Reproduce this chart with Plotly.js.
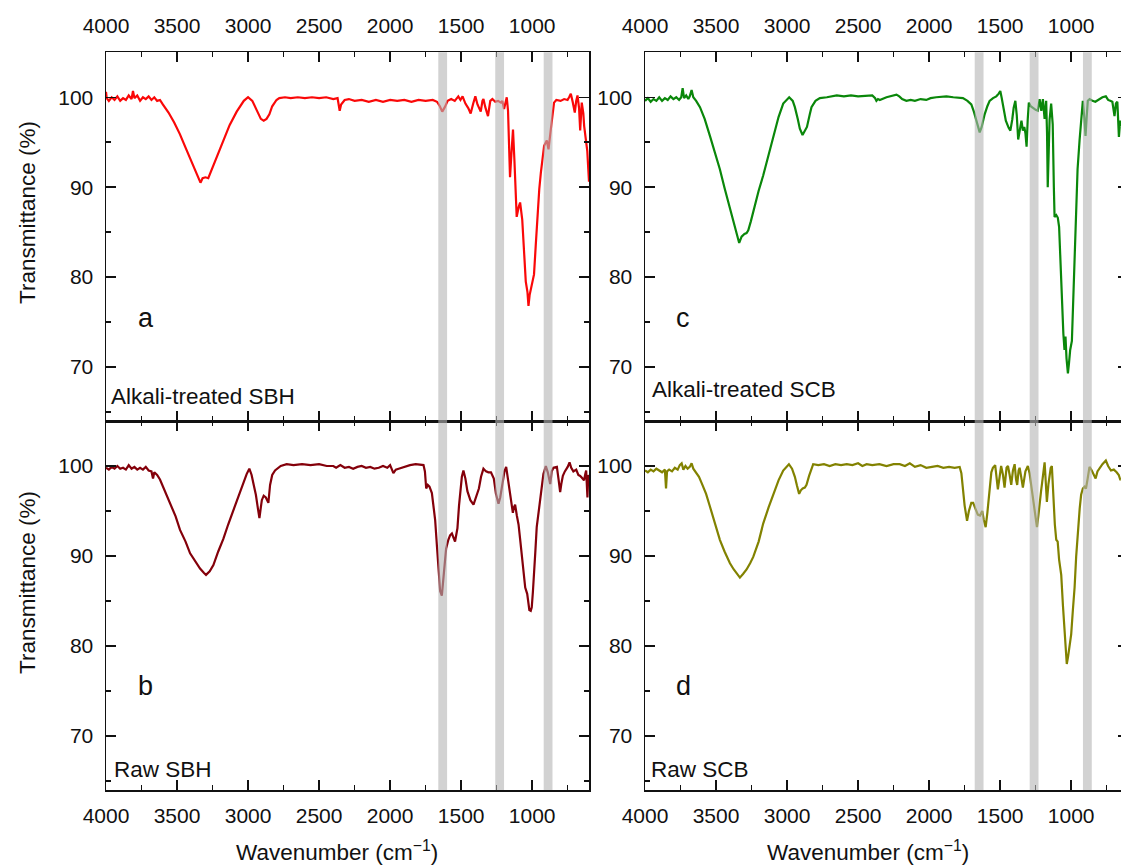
<!DOCTYPE html>
<html>
<head>
<meta charset="utf-8">
<script src="https://cdn.plot.ly/plotly-3.0.1.min.js"></script>
<style>
html,body{margin:0;padding:0;overflow:hidden;background:#fff;}
#chart{width:1130px;height:866px;}
</style>
</head>
<body>
<div id="chart"></div>
<script>
// ---- Panel a: Alkali-treated SBH ----
var aWn = [4000,3995,3980,3960,3940,3920,3900,3880,3860,3840,3820,3810,3800,3780,3760,3740,3720,3700,3680,3660,3640,3620,3600,3560,3520,3480,3440,3400,3370,3345,3335,3320,3300,3280,3265,3230,3180,3130,3080,3030,3000,2970,2940,2910,2890,2870,2850,2830,2800,2780,2740,2700,2650,2600,2550,2500,2450,2400,2370,2355,2345,2320,2290,2250,2200,2150,2100,2050,2000,1950,1900,1850,1800,1750,1700,1670,1650,1633,1615,1595,1570,1545,1520,1505,1490,1470,1450,1433,1415,1400,1385,1362,1350,1343,1330,1311,1295,1280,1260,1240,1220,1210,1198,1185,1179,1170,1156,1145,1135,1125,1109,1095,1085,1070,1058,1045,1033,1026,1018,1010,1000,987,975,963,950,939,925,916,897,885,869,855,846,830,800,775,751,740,728,715,700,690,681,670,662,651,640,634,622,612,605,600];
var aT  = [100.6,99.9,99.6,100.0,99.7,100.1,99.6,99.9,99.7,100.2,99.8,100.7,99.9,100.2,99.6,100.0,99.8,100.1,99.7,100.0,99.6,99.7,99.2,98.3,97.2,95.9,94.4,92.9,91.8,90.9,90.5,91.0,91.1,91.0,91.6,93.0,95.0,96.9,98.4,99.6,100.0,99.6,98.6,97.6,97.4,97.6,98.1,99.0,99.7,99.9,100.0,99.9,100.0,99.9,100.0,99.9,100.0,99.8,99.9,98.5,99.2,99.7,99.8,99.6,99.7,99.5,99.7,99.5,99.7,99.6,99.7,99.5,99.7,99.6,99.7,99.5,99.0,98.4,98.9,99.6,99.8,99.6,100.1,99.7,100.1,99.3,98.8,98.2,99.3,100.1,99.2,98.4,99.6,99.8,98.9,97.9,99.6,99.8,99.5,99.6,99.4,99.6,98.7,99.8,100.0,98.5,91.1,94.0,96.4,93.0,86.7,87.8,88.3,86.4,83.0,79.5,78.3,76.8,78.0,78.6,79.3,80.3,83.5,87.2,89.8,91.6,93.6,94.6,95.2,94.2,96.4,98.4,99.4,99.7,99.6,99.8,99.7,100.0,100.4,99.5,98.3,99.6,100.2,98.8,96.3,99.4,98.2,96.8,95.4,94.0,92.0,90.6];

// ---- Panel b: Raw SBH ----
var bWn = [4000,3980,3960,3940,3920,3900,3880,3860,3840,3820,3800,3780,3760,3740,3720,3700,3680,3669,3660,3640,3620,3590,3549,3510,3479,3440,3408,3370,3338,3310,3296,3270,3244,3210,3174,3140,3104,3070,3033,3010,2991,2975,2960,2945,2930,2920,2910,2903,2890,2875,2857,2850,2845,2830,2810,2770,2728,2680,2620,2560,2500,2446,2400,2380,2350,2320,2290,2260,2230,2200,2170,2140,2110,2080,2050,2020,2000,1977,1960,1940,1900,1860,1820,1790,1765,1755,1746,1735,1723,1706,1695,1683,1670,1660,1648,1636,1625,1615,1606,1590,1578,1565,1555,1543,1535,1526,1515,1507,1495,1484,1470,1456,1435,1413,1400,1389,1375,1360,1343,1325,1308,1290,1270,1255,1237,1225,1213,1195,1183,1170,1155,1145,1136,1128,1120,1108,1096,1085,1073,1060,1049,1035,1020,1010,1003,995,986,978,968,955,944,932,921,904,890,873,862,850,826,815,803,795,784,770,750,737,725,710,690,675,662,650,635,625,620,611,605,600];
var bT  = [99.8,99.6,99.9,99.7,100.0,99.7,99.8,99.6,100.1,99.7,99.9,99.6,99.8,99.6,99.9,99.5,99.4,98.6,99.3,99.0,98.5,97.4,95.8,94.4,92.9,91.6,90.3,89.3,88.6,88.1,87.9,88.3,89.0,90.5,91.9,93.5,95.1,96.6,98.2,99.1,99.7,99.0,97.9,96.8,95.2,94.2,95.4,96.2,96.7,96.5,95.9,96.8,97.9,99.0,99.5,100.0,100.2,100.1,100.2,100.1,100.2,100.0,100.0,99.8,100.1,99.8,99.9,99.7,99.9,100.0,99.8,99.9,99.7,99.8,100.0,99.8,100.1,99.2,99.6,99.7,99.9,100.1,100.2,100.1,100.1,99.4,97.5,97.9,97.7,97.0,95.6,94.0,91.0,88.5,86.1,85.6,87.4,89.3,90.8,91.8,92.3,92.5,92.0,91.6,92.3,93.1,95.6,97.2,98.8,99.5,98.6,97.2,96.2,95.7,96.3,96.8,97.5,98.8,99.7,99.4,99.3,99.3,98.6,96.9,95.8,96.5,97.5,99.4,99.9,98.6,96.8,95.6,94.8,95.4,95.7,94.5,93.5,91.9,90.2,88.2,86.5,85.8,84.0,83.9,84.3,86.0,88.0,90.4,93.2,94.9,96.2,97.8,99.1,100.0,99.3,98.0,99.4,99.8,99.9,98.6,97.1,98.0,98.9,99.4,99.9,100.4,99.8,99.4,99.6,99.0,98.9,98.7,98.4,99.2,99.5,96.5,99.0,98.8];

// ---- Panel c: Alkali-treated SCB ----
var cWn = [4000,3980,3960,3940,3920,3900,3880,3860,3840,3820,3800,3780,3760,3745,3735,3725,3710,3695,3685,3672,3660,3640,3613,3580,3543,3510,3473,3440,3402,3375,3355,3337,3320,3300,3285,3273,3255,3238,3200,3168,3130,3097,3060,3027,2985,2960,2945,2925,2910,2891,2875,2860,2840,2828,2800,2769,2720,2650,2600,2550,2500,2440,2400,2380,2371,2360,2347,2300,2260,2230,2210,2190,2160,2130,2100,2060,2020,1990,1950,1900,1878,1830,1790,1762,1730,1703,1685,1668,1655,1644,1630,1620,1609,1590,1574,1550,1527,1510,1499,1490,1475,1460,1440,1428,1415,1405,1393,1383,1373,1362,1350,1340,1330,1322,1314,1306,1298,1285,1270,1250,1235,1222,1210,1199,1187,1176,1170,1165,1158,1152,1141,1130,1122,1117,1105,1094,1085,1075,1063,1055,1047,1040,1033,1023,1015,1007,995,985,975,966,955,941,930,918,908,899,890,883,870,850,830,800,780,756,740,725,710,695,685,675,664,655,650];
var cT  = [99.6,99.9,99.5,99.8,99.6,100.0,99.6,99.9,99.7,100.1,99.8,100.0,99.7,100.0,101.0,99.9,100.2,99.8,100.1,100.8,100.0,99.6,98.9,97.6,95.7,94.0,92.0,89.9,87.6,86.0,85.0,83.8,84.5,84.8,84.9,85.2,86.2,87.3,89.6,91.3,93.6,95.8,97.8,99.3,100.0,99.6,98.9,97.6,96.5,95.8,96.3,96.7,98.1,98.9,99.6,99.9,100.0,100.2,100.1,100.2,100.1,100.2,100.2,99.9,99.6,99.8,99.7,100.0,100.2,100.3,100.1,99.8,99.6,99.7,99.6,99.8,99.7,99.9,100.0,100.1,100.1,100.0,99.9,99.9,99.6,99.2,98.4,97.4,96.6,96.1,96.7,97.4,98.1,99.0,99.6,99.9,100.1,100.4,100.7,100.0,98.8,97.4,96.6,96.3,97.5,98.8,99.6,98.0,95.3,96.5,97.4,96.3,96.7,96.0,94.5,97.5,99.4,99.0,98.8,98.6,98.5,99.8,98.5,99.8,97.6,99.6,96.0,90.0,94.0,97.5,99.3,97.0,90.0,86.7,86.9,86.6,85.6,81.0,76.0,73.7,71.9,73.4,71.0,69.3,70.5,71.9,72.9,78.0,84.0,87.8,92.0,95.2,97.8,99.6,97.8,95.7,98.0,99.6,99.8,99.6,99.5,99.8,100.0,100.1,99.7,99.6,99.5,97.9,99.3,99.5,95.6,97.4,96.8];

// ---- Panel d: Raw SCB ----
var dWn = [4000,3980,3960,3940,3920,3900,3880,3860,3852,3845,3830,3810,3790,3770,3755,3742,3730,3715,3700,3685,3672,3660,3640,3620,3601,3570,3543,3510,3473,3440,3402,3375,3355,3332,3310,3285,3260,3238,3200,3168,3130,3097,3060,3027,2987,2965,2945,2930,2915,2903,2890,2875,2863,2845,2830,2816,2780,2740,2700,2660,2620,2580,2540,2500,2470,2440,2400,2350,2300,2250,2207,2170,2136,2100,2060,2020,1980,1940,1900,1860,1820,1785,1773,1760,1750,1733,1720,1703,1690,1675,1657,1642,1626,1615,1602,1590,1575,1562,1551,1535,1516,1500,1493,1480,1469,1455,1445,1433,1422,1410,1398,1388,1380,1370,1363,1352,1340,1322,1305,1293,1281,1268,1257,1248,1241,1230,1222,1212,1204,1195,1187,1180,1171,1160,1153,1144,1136,1130,1124,1115,1105,1095,1085,1070,1058,1047,1039,1031,1022,1012,1000,988,976,965,953,940,930,918,906,896,885,871,855,840,828,815,800,780,756,740,720,700,680,665,655,650];
var dT  = [99.5,99.3,99.6,99.4,99.7,99.5,99.3,99.6,97.5,99.4,99.6,99.4,99.8,99.6,100.1,100.3,99.6,100.0,99.7,99.9,100.3,99.7,99.3,98.8,98.1,96.9,95.5,93.8,91.8,90.5,89.2,88.5,88.1,87.6,88.0,88.5,89.2,89.9,91.6,93.6,95.4,96.9,98.4,99.5,100.2,99.7,98.8,97.8,96.9,97.3,97.5,97.6,97.9,98.9,99.6,100.2,100.1,100.2,100.0,100.2,100.1,100.2,100.1,100.3,100.0,100.2,100.1,100.2,100.0,100.2,100.2,100.0,100.3,99.9,100.1,99.8,99.9,100.0,99.8,99.9,99.8,99.9,99.2,97.0,95.6,93.9,95.0,95.9,95.9,95.3,94.6,94.5,95.0,94.0,93.2,94.8,97.5,99.3,99.8,100.1,97.4,99.6,100.0,99.0,97.6,99.8,100.0,99.0,97.9,99.5,100.2,98.5,97.9,99.5,99.8,98.8,97.6,99.4,100.0,99.2,97.8,96.0,94.5,93.7,93.2,94.6,96.0,97.2,98.2,99.6,100.4,98.5,96.0,98.0,98.9,99.8,100.0,97.8,95.6,93.5,91.8,91.6,89.6,87.9,84.5,81.3,79.5,78.0,78.8,79.8,81.3,84.0,86.5,89.9,93.1,95.3,96.8,97.5,97.7,97.5,98.5,99.9,99.5,99.0,98.6,99.4,99.8,100.2,100.6,100.0,99.5,99.6,99.3,99.0,98.5,98.5];

// Highlighted bands (wavenumber centres)
var bandsSBH = [1630, 1229, 888];
var bandsSCB = [1648, 1261, 886];
var bandWidth = 62;

var yTickVals = [70, 80, 90, 100];
var xTickVals = [4000, 3500, 3000, 2500, 2000, 1500, 1000];
var xTitle = 'Wavenumber (cm<sup>\u22121</sup>)';
var yTitle = 'Transmittance (%)';
var panelLetters = ['a', 'b', 'c', 'd'];
var panelNames = ['Alkali-treated SBH', 'Raw SBH', 'Alkali-treated SCB', 'Raw SCB'];

var W = 1130, H = 866;
function px(x){ return x / W; }
function py(y){ return 1 - y / H; }

var FONT = 'Liberation Sans, Arial, sans-serif';
var tickFont = {family: FONT, size: 21, color: '#111'};

var traces = [
  {x: aWn, y: aT, xaxis: 'x',  yaxis: 'y',  line: {color: 'rgb(250,8,8)', width: 2.2}},
  {x: bWn, y: bT, xaxis: 'x2', yaxis: 'y2', line: {color: 'rgb(132,0,10)', width: 2.2}},
  {x: cWn, y: cT, xaxis: 'x3', yaxis: 'y3', line: {color: 'rgb(10,135,10)', width: 2.2}},
  {x: dWn, y: dT, xaxis: 'x4', yaxis: 'y4', line: {color: 'rgb(130,130,0)', width: 2.2}}
].map(function(t){ t.type = 'scatter'; t.mode = 'lines'; t.hoverinfo = 'skip'; t.showlegend = false; return t; });

var leftDom = [px(106), px(589)];
var rightDom = [px(645), px(1128)];
var topDom = [py(421), py(52.3)];
var botDom = [py(790), py(421)];

function xAx(dom, anchor, side, standoff){
  return {
    domain: dom, anchor: anchor, side: side,
    range: [4000, 600], tickvals: xTickVals,
    ticks: 'inside', ticklen: 10, tickwidth: 1.5, tickcolor: '#111',
    minor: {dtick: 250, tick0: 0, ticks: 'inside', ticklen: 5, tickwidth: 1.5, tickcolor: '#111'},
    showline: true, linecolor: '#111', linewidth: 1.5, mirror: 'ticks',
    showgrid: false, zeroline: false, tickfont: tickFont,
    ticklabelstandoff: standoff, fixedrange: true
  };
}
function yAx(dom, anchor){
  return {
    domain: dom, anchor: anchor, side: 'left',
    range: [64, 105], tickvals: yTickVals,
    ticks: 'inside', ticklen: 10, tickwidth: 1.5, tickcolor: '#111',
    minor: {dtick: 5, tick0: 0, ticks: 'inside', ticklen: 5, tickwidth: 1.5, tickcolor: '#111'},
    showline: true, linecolor: '#111', linewidth: 1.5, mirror: 'ticks',
    showgrid: false, zeroline: false, tickfont: tickFont,
    ticklabelstandoff: 7, fixedrange: true
  };
}

var shapes = [];
bandsSBH.forEach(function(c){
  shapes.push({type: 'rect', xref: 'x', yref: 'paper', x0: c + bandWidth/2, x1: c - bandWidth/2,
    y0: botDom[0], y1: topDom[1], fillcolor: '#b4b4b4', opacity: 0.6, line: {width: 0}, layer: 'above'});
});
bandsSCB.forEach(function(c){
  shapes.push({type: 'rect', xref: 'x3', yref: 'paper', x0: c + bandWidth/2, x1: c - bandWidth/2,
    y0: botDom[0], y1: topDom[1], fillcolor: '#b4b4b4', opacity: 0.6, line: {width: 0}, layer: 'above'});
});

var annFont = {family: FONT, size: 22.5, color: '#111'};
var letterFont = {family: FONT, size: 27, color: '#111'};
var annotations = [
  // axis titles
  {text: yTitle, x: px(27), y: py(213), textangle: -90, font: annFont},
  {text: yTitle, x: px(27), y: py(583), textangle: -90, font: annFont},
  {text: xTitle, x: px(337), y: py(851), font: annFont},
  {text: xTitle, x: px(868), y: py(851), font: annFont},
  // panel letters
  {text: panelLetters[0], x: px(136), y: py(318), xanchor: 'left', font: letterFont},
  {text: panelLetters[1], x: px(136), y: py(686), xanchor: 'left', font: letterFont},
  {text: panelLetters[2], x: px(674), y: py(318), xanchor: 'left', font: letterFont},
  {text: panelLetters[3], x: px(674), y: py(686), xanchor: 'left', font: letterFont},
  // sample names
  {text: panelNames[0], x: px(109), y: py(396), xanchor: 'left', font: annFont},
  {text: panelNames[1], x: px(112), y: py(769), xanchor: 'left', font: annFont},
  {text: panelNames[2], x: px(650), y: py(389), xanchor: 'left', font: annFont},
  {text: panelNames[3], x: px(649), y: py(769), xanchor: 'left', font: annFont}
].map(function(a){ a.xref = 'paper'; a.yref = 'paper'; a.showarrow = false; if(!a.xanchor) a.xanchor = 'center'; a.yanchor = 'middle'; return a; });

var layout = {
  width: W, height: H,
  margin: {l: 0, r: 0, t: 0, b: 0},
  paper_bgcolor: '#ffffff', plot_bgcolor: '#ffffff',
  showlegend: false,
  font: {family: FONT, color: '#111'},
  xaxis:  xAx(leftDom,  'y',  'top', 9),
  yaxis:  yAx(topDom,   'x'),
  xaxis2: xAx(leftDom,  'y2', 'bottom', 6),
  yaxis2: yAx(botDom,   'x2'),
  xaxis3: xAx(rightDom, 'y3', 'top', 9),
  yaxis3: yAx(topDom,   'x3'),
  xaxis4: xAx(rightDom, 'y4', 'bottom', 6),
  yaxis4: yAx(botDom,   'x4'),
  shapes: shapes,
  annotations: annotations
};

Plotly.newPlot('chart', traces, layout, {displayModeBar: false, staticPlot: true});
</script>
</body>
</html>
